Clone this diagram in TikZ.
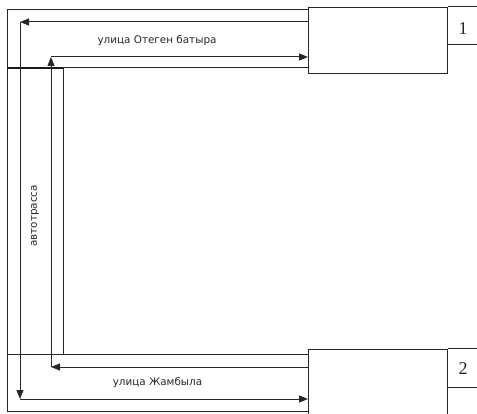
\documentclass[tikz,border=0pt]{standalone}
\usepackage{fontspec}
\setmainfont{Liberation Serif}
\setsansfont{DejaVu Sans}
\usetikzlibrary{arrows.meta}
\begin{document}
\begin{tikzpicture}[x=1pt,y=-1pt,
  ln/.style={draw=black!85,line width=1pt},
  thk/.style={draw=black!90,line width=2pt},
  arr/.style={ln,-{Triangle[length=9pt,width=7pt]}},
  bx/.style={ln,rectangle,inner sep=0pt,anchor=north west},
  lbl/.style={font=\sffamily\fontsize{10.4}{12}\selectfont,inner sep=0pt,text=black!85},
  num/.style={font=\fontsize{18}{20}\selectfont,inner sep=0pt,text=black!85}]
\useasboundingbox (0,0) rectangle (477,414);
% buildings
\node[bx,minimum width=139pt,minimum height=66pt] (b1) at (308,7) {};
\node[bx,minimum width=139pt,minimum height=65pt] (b2) at (308,349) {};
% number cells
\coordinate (c1) at (447,45);
\coordinate (c2) at (447,387);
\draw[ln] (b1.north east) -- (480,7);
\draw[ln] (c1) -- (480,45);
\draw[ln] (b2.north east) -- (480,349);
\draw[ln] (c2) -- (480,387);
\node[num] (n1) at (463,29) {1};
\node[num] (n2) at (463,369) {2};
% outer road boundary
\coordinate (o1) at (308,10);
\coordinate (o2) at (7,10);
\coordinate (o3) at (7,411);
\coordinate (o4) at (308,411);
\draw[ln] (o1) -- (o2) -- (o3) -- (o4);
% inner road boundary
\coordinate (i1) at (308,68);
\coordinate (i2) at (63,68);
\coordinate (i3) at (63,354);
\coordinate (i4) at (308,354);
\coordinate (i0) at (7,68);
\coordinate (i5) at (7,354);
\draw[ln] (i1) -- (i2) -- (i3);
\draw[thk] (i0) -- (i2);
\draw[ln] (i5) -- (i4);
% traffic arrows: from building 1 to building 2
\coordinate (a0) at (308,22);
\coordinate (a1) at (20,22);
\coordinate (a2) at (20,399);
\coordinate (a3) at (308,399);
\draw[arr] (a0) -- (a1);
\draw[arr] (a1) -- (a2);
\draw[arr] (a2) -- (a3);
% traffic arrows: from building 2 to building 1
\coordinate (d0) at (308,367);
\coordinate (d1) at (51,367);
\coordinate (d2) at (51,57);
\coordinate (d3) at (308,57);
\draw[arr] (d0) -- (d1);
\draw[arr] (d1) -- (d2);
\draw[arr] (d2) -- (d3);
% labels
\node[lbl] (t1) at (157,41) {улица Отеген батыра};
\node[lbl] (t2) at (157.5,383) {улица Жамбыла};
\node[lbl,rotate=90] (t3) at (35,216) {автотрасса};
\end{tikzpicture}
\end{document}
